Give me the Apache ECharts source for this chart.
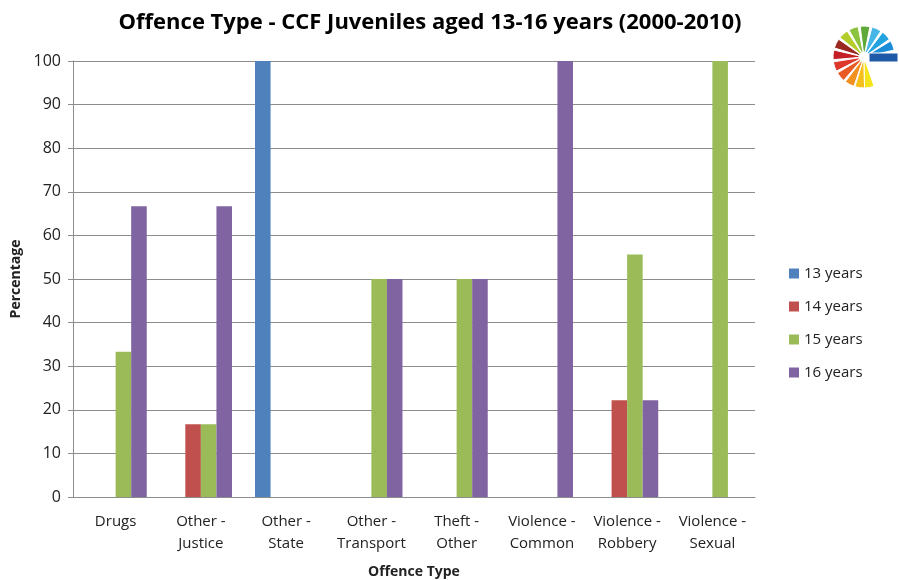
<!DOCTYPE html>
<html>
<head>
<meta charset="utf-8">
<script src="https://cdn.jsdelivr.net/npm/echarts@6/dist/echarts.min.js"></script>
<style>
  html, body { margin: 0; padding: 0; background: #fff; }
  #chart { width: 899px; height: 580px; }
</style>
</head>
<body>
<div id="chart"></div>
<script>
// Offence categories (x axis)
var categories = [
  'Drugs', 'Other -\nJustice', 'Other -\nState', 'Other -\nTransport',
  'Theft -\nOther', 'Violence -\nCommon', 'Violence -\nRobbery', 'Violence -\nSexual'
];

// Percentage of offences per age group
var age13 = [0, 0, 100, 0, 0, 0, 0, 0];
var age14 = [0, 16.7, 0, 0, 0, 0, 22.2, 0];
var age15 = [33.3, 16.7, 0, 50, 50, 0, 55.6, 100];
var age16 = [66.7, 66.7, 0, 50, 50, 100, 22.2, 0];

var seriesNames = ['13 years', '14 years', '15 years', '16 years'];
var seriesColors = ['#4F81BD', '#C0504D', '#9BBB59', '#8064A2'];

// Fan-shaped emblem in the top-right corner: angle (degrees, counter-clockwise) and colour of each blade
var emblemAngles = [22, 44, 66, 88, 110, 132, 154, 176, 198, 220, 242, 262, 280];
var emblemColors = ['#1a8cd8', '#22a3e0', '#45b6e6', '#5fa83a', '#8cc43f', '#b3cd2c',
                    '#9a2820', '#c41f27', '#de372c', '#ea5a25', '#f39020', '#f6bf1c', '#f5e41a'];

var FONT = '"Open Sans", "Noto Sans", sans-serif';

var cx = 864, cy = 57;
var emblem = emblemAngles.map(function (a, i) {
  var half = 9 * Math.PI / 180;
  var t = -a * Math.PI / 180;
  return {
    type: 'sector',
    shape: { cx: cx, cy: cy, r0: 5, r: 31, startAngle: t - half, endAngle: t + half },
    style: { fill: emblemColors[i], stroke: '#ffffff', lineWidth: 1 }
  };
});
emblem.push({
  type: 'rect',
  shape: { x: cx + 5, y: cy - 4, width: 29, height: 9 },
  style: { fill: '#1f5aa8', stroke: '#ffffff', lineWidth: 1 }
});

var chart = echarts.init(document.getElementById('chart'), null, { renderer: 'canvas' });

chart.setOption({
  animation: false,
  backgroundColor: '#ffffff',
  title: {
    text: 'Offence Type - CCF Juveniles aged 13-16 years (2000-2010)',
    left: 425,
    textAlign: 'center',
    top: 7,
    textStyle: { fontFamily: FONT, fontSize: 22, fontWeight: 'bold', color: '#000000' }
  },
  legend: {
    orient: 'vertical',
    left: 784,
    top: 261,
    itemWidth: 10,
    itemHeight: 10,
    itemGap: 18,
    icon: 'rect',
    data: seriesNames,
    textStyle: { fontFamily: FONT, fontSize: 15, color: '#222222' }
  },
  grid: { left: 73, right: 144, top: 61, bottom: 83, containLabel: false, outerBoundsMode: 'none' },
  xAxis: {
    type: 'category',
    data: categories,
    name: 'Offence Type',
    nameLocation: 'middle',
    nameGap: 68,
    nameTextStyle: { fontFamily: FONT, fontSize: 14, fontWeight: 'bold', color: '#222222' },
    axisLine: { lineStyle: { color: '#8c8c8c', width: 1 } },
    axisTick: { show: false },
    axisLabel: {
      interval: 0, margin: 14, lineHeight: 22,
      fontFamily: FONT, fontSize: 15, color: '#222222'
    }
  },
  yAxis: {
    type: 'value',
    min: 0,
    max: 100,
    interval: 10,
    name: 'Percentage',
    nameLocation: 'middle',
    nameGap: 48,
    nameRotate: 90,
    nameTextStyle: { fontFamily: FONT, fontSize: 14, fontWeight: 'bold', color: '#222222' },
    axisLine: { show: true, lineStyle: { color: '#8c8c8c', width: 1 } },
    axisTick: { show: true, inside: false, length: 5, lineStyle: { color: '#8c8c8c' } },
    axisLabel: { margin: 12, fontFamily: FONT, fontSize: 16, color: '#222222' },
    splitLine: { show: true, lineStyle: { color: '#8c8c8c', width: 1 } }
  },
  series: [age13, age14, age15, age16].map(function (vals, i) {
    return {
      name: seriesNames[i],
      type: 'bar',
      data: vals,
      barGap: '0%',
      barCategoryGap: '27%',
      itemStyle: { color: seriesColors[i] }
    };
  }),
  graphic: emblem
});
</script>
</body>
</html>
